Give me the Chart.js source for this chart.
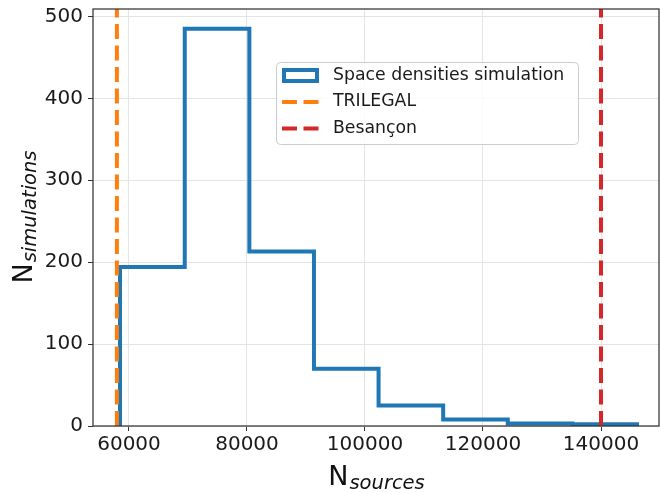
<!DOCTYPE html>
<html>
<head>
    <title>Simulations histogram</title>
    <script src="https://cdn.jsdelivr.net/npm/chart.js@4.4.1/dist/chart.umd.min.js"></script>
    <style>
        body { margin: 0; background: #fff; }
        .chart-container { width: 660px; height: 493px; }
    </style>
</head>
<body>
    <div class="chart-container">
        <canvas id="histChart" width="660" height="493"></canvas>
    </div>

    <script>
    // histogram bins (edges) and counts per bin
    const binEdges = [58475, 69450, 80400, 91350, 102300, 113250, 124200, 135150, 146100];
    const counts = [194, 485, 213, 70, 25, 8, 3, 2];

    // reference model values
    const trilegalValue = 57950;
    const besanconValue = 140000;

    const xRange = [53900, 149830];
    const yRange = [0, 509];
    const xTicks = [60000, 80000, 100000, 120000, 140000];
    const yTicks = [0, 100, 200, 300, 400, 500];

    const legendLabels = ['Space densities simulation', 'TRILEGAL', 'Besançon'];
    const xTitle = ['N', 'sources'];
    const yTitle = ['N', 'simulations'];

    const FONT = '"DejaVu Sans", sans-serif';
    const DASH = [15, 6.5];

    // step outline like matplotlib histtype='step'
    function stepPoints() {
        const pts = [{ x: binEdges[0], y: 0 }];
        counts.forEach((c, i) => pts.push({ x: binEdges[i], y: c }));
        pts.push({ x: binEdges[binEdges.length - 1], y: 0 });
        return pts;
    }

    function vline(x) {
        return [{ x: x, y: yRange[0] }, { x: x, y: yRange[1] }];
    }

    // frame around the plot area
    const framePlugin = {
        id: 'frame',
        afterDatasetsDraw(chart) {
            const a = chart.chartArea;
            const ctx = chart.ctx;
            ctx.save();
            ctx.strokeStyle = '#333';
            ctx.lineWidth = 1.25;
            ctx.strokeRect(a.left, a.top, a.right - a.left, a.bottom - a.top);
            ctx.restore();
        }
    };

    // axis titles with subscripts
    function drawSubTitle(ctx, parts, cx, baseline) {
        ctx.font = '27px ' + FONT;
        const w1 = ctx.measureText(parts[0]).width;
        ctx.font = 'italic 19.5px ' + FONT;
        const w2 = ctx.measureText(parts[1]).width;
        const start = cx - (w1 + w2) / 2;
        ctx.textBaseline = 'alphabetic';
        ctx.textAlign = 'left';
        ctx.font = '27px ' + FONT;
        ctx.fillText(parts[0], start, baseline);
        ctx.font = 'italic 19.5px ' + FONT;
        ctx.fillText(parts[1], start + w1 + 1, baseline + 4);
    }

    const titlesPlugin = {
        id: 'titles',
        afterDraw(chart) {
            const a = chart.chartArea;
            const ctx = chart.ctx;
            ctx.save();
            ctx.fillStyle = '#111';
            drawSubTitle(ctx, xTitle, (a.left + a.right) / 2, 484.5);
            ctx.translate(32, (a.top + a.bottom) / 2);
            ctx.rotate(-Math.PI / 2);
            drawSubTitle(ctx, yTitle, 0, 0);
            ctx.restore();
        }
    };

    // legend box inside the axes
    const legendPlugin = {
        id: 'boxLegend',
        afterDraw(chart) {
            const ctx = chart.ctx;
            const box = { x: 276, y: 62, w: 302, h: 82 };
            ctx.save();
            ctx.beginPath();
            ctx.roundRect(box.x + 0.5, box.y + 0.5, box.w, box.h, 4);
            ctx.fillStyle = 'rgba(255,255,255,0.8)';
            ctx.fill();
            ctx.strokeStyle = '#cccccc';
            ctx.lineWidth = 1;
            ctx.stroke();

            const rows = [75.5, 102, 128.5];
            const ds = chart.data.datasets;
            ds.forEach((d, i) => {
                const y = rows[i];
                ctx.strokeStyle = d.borderColor;
                ctx.lineWidth = 4;
                if (i === 0) {
                    ctx.setLineDash([]);
                    ctx.lineJoin = 'miter';
                    ctx.strokeRect(284, y - 5.5, 33, 11);
                } else {
                    ctx.setLineDash(DASH);
                    ctx.lineCap = 'butt';
                    ctx.beginPath();
                    ctx.moveTo(282, y);
                    ctx.lineTo(319, y);
                    ctx.stroke();
                }
                ctx.setLineDash([]);
                ctx.fillStyle = '#1a1a1a';
                ctx.font = '17.3px ' + FONT;
                ctx.textBaseline = 'middle';
                ctx.textAlign = 'left';
                ctx.fillText(d.label, 333, y);
            });
            ctx.restore();
        }
    };

    const tickFont = { family: FONT, size: 20 };
    const gridStyle = { color: '#e4e4e4', lineWidth: 1, tickColor: '#333', tickLength: 5 };

    const ctx = document.getElementById('histChart').getContext('2d');
    new Chart(ctx, {
        type: 'line',
        data: {
            datasets: [
                {
                    label: legendLabels[0],
                    data: stepPoints(),
                    borderColor: '#1f77b4',
                    borderWidth: 4,
                    stepped: 'before',
                    borderJoinStyle: 'miter',
                    pointRadius: 0,
                    fill: false,
                    order: 2
                },
                {
                    label: legendLabels[1],
                    data: vline(trilegalValue),
                    borderColor: '#ff7f0e',
                    borderWidth: 4,
                    borderDash: DASH,
                    borderCapStyle: 'butt',
                    pointRadius: 0,
                    order: 1
                },
                {
                    label: legendLabels[2],
                    data: vline(besanconValue),
                    borderColor: '#d62728',
                    borderWidth: 4,
                    borderDash: DASH,
                    borderCapStyle: 'butt',
                    pointRadius: 0,
                    order: 1
                }
            ]
        },
        options: {
            responsive: false,
            animation: false,
            layout: { padding: { top: 9, right: 1, left: 0, bottom: 0 } },
            plugins: {
                legend: { display: false },
                tooltip: { enabled: false }
            },
            scales: {
                x: {
                    type: 'linear',
                    min: xRange[0],
                    max: xRange[1],
                    afterBuildTicks(scale) { scale.ticks = xTicks.map(v => ({ value: v })); },
                    afterFit(scale) {
                        scale.height = 67;
                        scale.paddingLeft = 0;
                        scale.paddingRight = 0;
                    },
                    ticks: {
                        autoSkip: false,
                        maxRotation: 0,
                        padding: 2,
                        color: '#1a1a1a',
                        font: tickFont,
                        callback: v => String(v)
                    },
                    grid: gridStyle,
                    border: { display: false }
                },
                y: {
                    type: 'linear',
                    min: yRange[0],
                    max: yRange[1],
                    afterBuildTicks(scale) { scale.ticks = yTicks.map(v => ({ value: v })); },
                    afterFit(scale) {
                        scale.width = 93;
                        scale.paddingTop = 0;
                        scale.paddingBottom = 0;
                    },
                    ticks: {
                        autoSkip: false,
                        padding: 5,
                        color: '#1a1a1a',
                        font: tickFont,
                        callback: v => String(v)
                    },
                    grid: gridStyle,
                    border: { display: false }
                }
            }
        },
        plugins: [framePlugin, titlesPlugin, legendPlugin]
    });
    </script>
</body>
</html>
